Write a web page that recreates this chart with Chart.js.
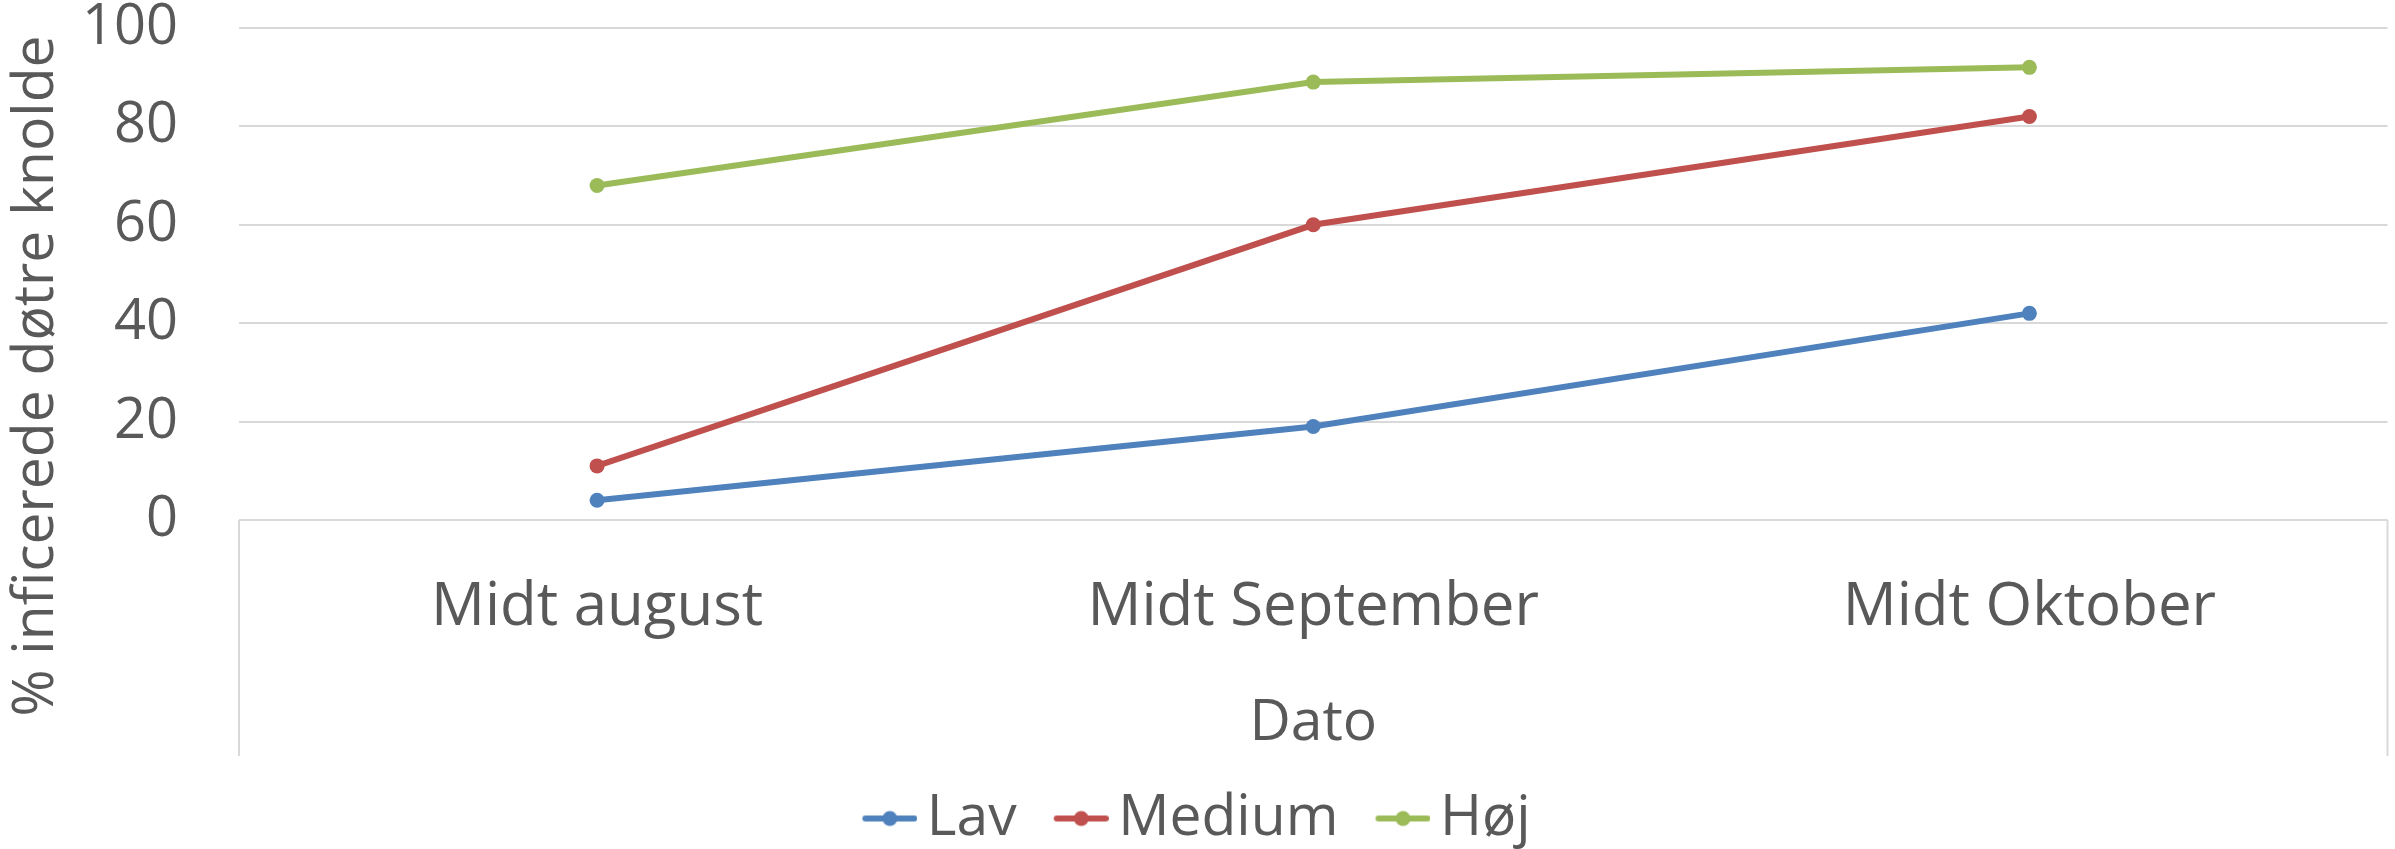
<!DOCTYPE html>
<html>
<head>
<meta charset="utf-8">
<script src="https://cdn.jsdelivr.net/npm/chart.js@4.4.0/dist/chart.umd.min.js"></script>
<style>
    html, body { margin: 0; padding: 0; background: #ffffff; }
    #wrap { width: 2395px; height: 849px; position: relative; }
</style>
</head>
<body>
<div id="wrap"><canvas id="chart"></canvas></div>
<script>
const categories = ['Midt august', 'Midt September', 'Midt Oktober'];
const seriesNames = ['Lav', 'Medium', 'Høj'];
const lavValues = [4, 19, 42];
const mediumValues = [11, 60, 82];
const hojValues = [68, 89, 92];
const yTicks = [0, 20, 40, 60, 80, 100];
const xTitle = 'Dato';
const yTitle = '% inficerede døtre knolde';

const colors = ['#4F81BD', '#C0504D', '#9BBB59'];
const textColor = '#595959';
const gridColor = '#D9D9D9';
const fontFamily = '"Open Sans", "Noto Sans", sans-serif';

// legend marker: a short line with a dot in the middle
function legendMarker(color) {
    const c = document.createElement('canvas');
    c.width = 79;
    c.height = 18;
    const g = c.getContext('2d');
    g.strokeStyle = color;
    g.lineWidth = 6;
    g.lineCap = 'round';
    g.beginPath();
    g.moveTo(27, 9);
    g.lineTo(76, 9);
    g.stroke();
    g.fillStyle = color;
    g.beginPath();
    g.arc(51.5, 9, 7.5, 0, Math.PI * 2);
    g.fill();
    return c;
}
const markers = colors.map(legendMarker);

// side borders of the category band and the rotated y title
const extras = {
    id: 'extras',
    afterDraw(chart) {
        const ctx = chart.ctx;
        const area = chart.chartArea;
        const xs = chart.scales.x;
        ctx.save();
        ctx.strokeStyle = gridColor;
        ctx.lineWidth = 2;
        ctx.beginPath();
        ctx.moveTo(area.left, area.bottom);
        ctx.lineTo(area.left, 756);
        ctx.moveTo(area.right, area.bottom);
        ctx.lineTo(area.right, 756);
        ctx.stroke();

        ctx.translate(37, 376);
        ctx.rotate(-Math.PI / 2);
        ctx.fillStyle = textColor;
        ctx.font = '57px ' + fontFamily;
        ctx.textAlign = 'center';
        ctx.textBaseline = 'middle';
        ctx.fillText(yTitle, 0, 0);
        ctx.restore();
    }
};

const datasets = [lavValues, mediumValues, hojValues].map((vals, i) => ({
    label: seriesNames[i],
    data: vals,
    borderColor: colors[i],
    backgroundColor: colors[i],
    pointBackgroundColor: colors[i],
    pointBorderWidth: 0,
    pointRadius: 7.5,
    borderWidth: 6,
    tension: 0
}));

new Chart(document.getElementById('chart'), {
    type: 'line',
    data: { labels: categories, datasets: datasets },
    plugins: [extras],
    options: {
        responsive: true,
        maintainAspectRatio: false,
        animation: false,
        layout: { padding: { top: 0, right: 7, left: 0, bottom: 0 } },
        plugins: {
            tooltip: { enabled: false },
            legend: {
                position: 'bottom',
                maxHeight: 91,
                labels: {
                    usePointStyle: true,
                    pointStyleWidth: 41,
                    padding: 32,
                    color: textColor,
                    font: { family: fontFamily, size: 57 },
                    generateLabels(chart) {
                        return chart.data.datasets.map((ds, i) => ({
                            text: ds.label,
                            pointStyle: markers[i],
                            fillStyle: colors[i],
                            strokeStyle: colors[i],
                            lineWidth: 0,
                            fontColor: textColor,
                            datasetIndex: i
                        }));
                    }
                }
            }
        },
        scales: {
            x: {
                offset: true,
                grid: { display: false, drawTicks: false },
                border: { display: false },
                ticks: {
                    color: textColor,
                    padding: 52,
                    maxRotation: 0,
                    font: { family: fontFamily, size: 60 }
                },
                title: {
                    display: true,
                    text: xTitle,
                    color: textColor,
                    padding: 0,
                    font: { family: fontFamily, size: 57 }
                },
                afterFit(scale) { scale.height = 238; }
            },
            y: {
                min: 0,
                max: 100,
                afterBuildTicks(scale) { scale.ticks = yTicks.map(v => ({ value: v })); },
                grid: { color: gridColor, lineWidth: 2, drawTicks: false },
                border: { display: false },
                ticks: {
                    color: textColor,
                    padding: 61,
                    font: { family: fontFamily, size: 56, lineHeight: 1 }
                },
                afterFit(scale) {
                    scale.width = 239;
                    scale.paddingTop = 28;
                    scale.paddingBottom = 0;
                }
            }
        }
    }
});
</script>
</body>
</html>
